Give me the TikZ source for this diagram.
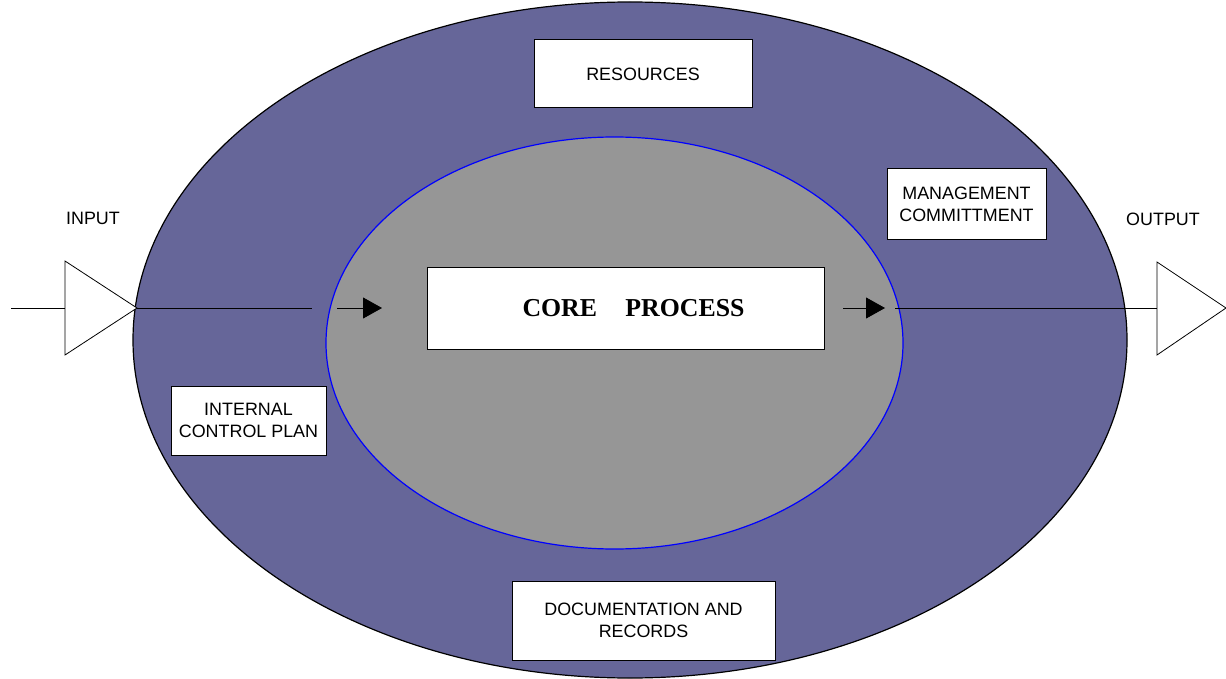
\documentclass[tikz,border=0pt]{standalone}
\usepackage{fontspec}
\setmainfont{Liberation Sans}
\newfontfamily\timesfont{Liberation Serif}
\usetikzlibrary{arrows.meta}
\definecolor{outerfill}{RGB}{102,102,153}
\definecolor{innerfill}{RGB}{150,150,150}
\definecolor{innerline}{RGB}{0,0,255}
\begin{document}
\begin{tikzpicture}[x=1pt,y=-1pt,
  lbl/.style={font=\fontsize{17.9}{21.7}\selectfont, align=center, inner sep=0pt},
  boxnode/.style={draw=black, line width=1pt, fill=white, inner sep=0pt, align=center,
    font=\fontsize{17.9}{21.7}\selectfont},
  conn/.style={draw=black, line width=0.9pt},
  arr/.style={conn, -{Triangle[length=19pt,width=21pt]}},
  tri/.style={draw=black, line width=0.8pt, fill=white}]
\useasboundingbox (0,0) rectangle (1226,679);
% outer and inner ellipses
\draw[fill=outerfill, draw=black, line width=1.2pt] (630,340) ellipse [x radius=497, y radius=338];
\draw[fill=innerfill, draw=innerline, line width=1.2pt] (614.5,343) ellipse [x radius=288.5, y radius=206];
% boxes
\node[boxnode, minimum width=218, minimum height=68] (res) at (643,74) {RESOURCES};
\node[boxnode, minimum width=159, minimum height=70] (mgmt) at (966.5,204) {MANAGEMENT\\COMMITTMENT};
\node[boxnode, minimum width=155, minimum height=69] (icp) at (248.5,420.5) {INTERNAL\\CONTROL PLAN};
\node[boxnode, minimum width=263, minimum height=79] (doc) at (643.5,620.5) {DOCUMENTATION AND\\RECORDS};
\node[boxnode, minimum width=397, minimum height=82] (core) at (625.5,308) {\timesfont\bfseries\fontsize{25.8}{30}\selectfont\hspace*{16pt}CORE\hspace{1.1em}PROCESS};
% labels
\node[lbl] (inlbl) at (93,218) {INPUT};
\node[lbl] (outlbl) at (1163,219) {OUTPUT};
% input triangle
\coordinate (inA) at (65,261);
\coordinate (inB) at (65,355);
\coordinate (inTip) at (137,308);
\coordinate (inL) at (65,308);
\coordinate (in0) at (11,308);
\draw[tri] (inA) -- (inTip) -- (inB) -- cycle;
% output triangle
\coordinate (outA) at (1157,262);
\coordinate (outB) at (1157,355);
\coordinate (outTip) at (1226,308);
\coordinate (outL) at (1157,308);
\draw[tri] (outA) -- (outTip) -- (outB) -- cycle;
% connectors
\coordinate (p1) at (312,308);
\coordinate (a1s) at (337,308);
\coordinate (a1e) at (382,308);
\coordinate (a2s) at (843,308);
\coordinate (a2e) at (885,308);
\coordinate (p2) at (895,308);
\draw[conn] (in0) -- (inL);
\draw[conn] (inTip) -- (p1);
\draw[arr] (a1s) -- (a1e);
\draw[arr] (a2s) -- (a2e);
\draw[conn] (p2) -- (outL);
\end{tikzpicture}
\end{document}
